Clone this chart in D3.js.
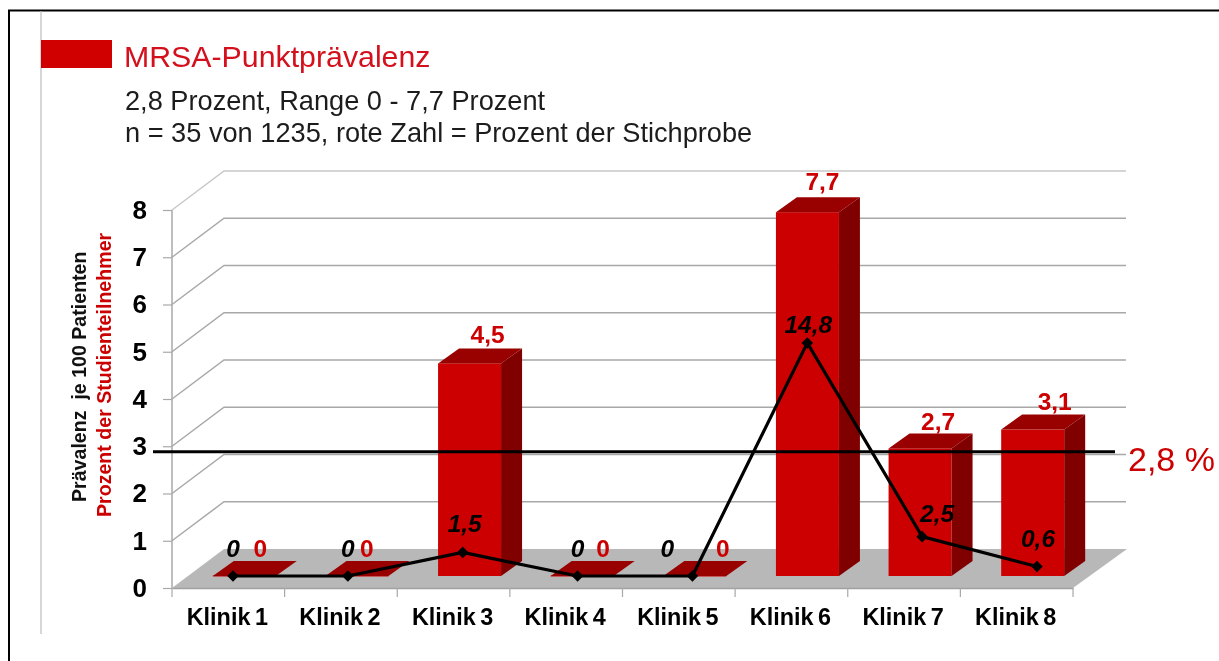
<!DOCTYPE html>
<html><head><meta charset="utf-8">
<script src="https://cdn.jsdelivr.net/npm/d3@7/dist/d3.min.js"></script>
<style>html,body{margin:0;padding:0;background:#fff}svg{display:block;font-family:"Liberation Sans",Arial,sans-serif;filter:blur(0.45px)}</style>
</head><body><svg id="c" width="1219" height="661"></svg>
<script>
const categories=["Klinik 1","Klinik 2","Klinik 3","Klinik 4","Klinik 5","Klinik 6","Klinik 7","Klinik 8"];
const prevalence=[0,0,4.5,0,0,7.7,2.7,3.1];
const studentShare=[0,0,1.5,0,0,14.8,2.5,0.6];
const prevalenceLabels=["0","0","4,5","0","0","7,7","2,7","3,1"];
const studentLabels=["0","0","1,5","0","0","14,8","2,5","0,6"];
const yTicks=[0,1,2,3,4,5,6,7,8];
const meanValue=2.8, meanLabel="2,8 %";
const titleText="MRSA-Punktprävalenz";
const subtitleLines=["2,8 Prozent, Range 0 - 7,7 Prozent","n = 35 von 1235, rote Zahl = Prozent der Stichprobe"];
const yTitleBlack="Prävalenz  je 100 Patienten", yTitleRed="Prozent der Studienteilnehmer";
const redDx=[16,10,18,21,28,15,18,22];
const redDy=[19,19,20,19,19,22,18,20];
const blackDx=[0,0,2,0,-25,1,15,1];
const blackDy=[19,19,20,19,19,10,15,20];

const RED="#cc0000",TOP="#990000",SIDE="#800000",GRID="#a8a8a8",FLOOR="#b8b8b8",TITLE="#d4101c";
const svg=d3.select("#c");
const left=172,right=1073,y0=588,y8=210,wallDx=52,wallDy=39,inDx=16,inDy=12,barW=63,bDx=21,bDy=15;
const x=d3.scaleBand().domain(categories).range([left,right]);
const y=d3.scaleLinear().domain([0,8]).range([y0,y8]);
const yS=d3.scaleLinear().domain([0,24]).range([y0-inDy,y8-inDy]);
const xS=d3.scalePoint().domain(categories).range([233,1037]);

// frame
svg.append("path").attr("d","M9,661V10.5H1219").attr("fill","none").attr("stroke","#000").attr("stroke-width",2);
svg.append("line").attr("x1",41).attr("x2",41).attr("y1",11).attr("y2",634).attr("stroke","#bdbdbd").attr("stroke-width",1.2);
svg.append("rect").attr("x",41).attr("y",40).attr("width",71).attr("height",28).attr("fill","#d00000");
svg.append("text").attr("x",124).attr("y",67).attr("font-size",30.3).attr("fill",TITLE).text(titleText);
subtitleLines.forEach((t,i)=>svg.append("text").attr("x",125).attr("y",110+i*32).attr("font-size",27.2).attr("fill","#1c1c1c").text(t));

// walls
const wall=svg.append("g").attr("fill","none").attr("stroke",GRID).attr("stroke-width",1.5);
svg.append("path").attr("fill",FLOOR).attr("d",`M${left},${y0}L${left+wallDx},${y0-wallDy}H${right+wallDx+2}L${right},${y0}Z`);
yTicks.forEach(v=>{
  if(v===0)return;
  wall.append("path").attr("stroke",v===8?"#c8c8c8":GRID).attr("d",`M${left},${y(v)}L${left+wallDx},${y(v)-wallDy}H${right+wallDx+1}`);
});
svg.append("line").attr("x1",left).attr("x2",left).attr("y1",y8).attr("y2",y0).attr("stroke",GRID).attr("stroke-width",1.5);

// axes
const ax=svg.append("g").attr("transform",`translate(${left},0)`).call(d3.axisLeft(y).tickValues(yTicks).tickSize(9).tickPadding(16).tickFormat(d3.format("d")));
ax.select(".domain").remove();
ax.selectAll("line").attr("stroke",GRID).attr("stroke-width",1.2);
ax.selectAll("text").attr("font-family","Liberation Sans").attr("font-size",26).attr("font-weight","bold").attr("fill","#000");
const bx=svg.append("g").attr("transform",`translate(0,${y0})`).call(d3.axisBottom(x).tickSize(0).tickPadding(20));
bx.select(".domain").attr("stroke","#a0a0a0").attr("stroke-width",1.5);
bx.selectAll("text").attr("font-family","Liberation Sans").attr("font-size",23.4).attr("font-weight","bold").attr("fill","#000").attr("word-spacing",-2).attr("dx",-1);
[...categories.map(c=>x(c)),right].forEach(px=>bx.append("line").attr("x1",px).attr("x2",px).attr("y1",0).attr("y2",9).attr("stroke",GRID).attr("stroke-width",1.2));

// bars
const g=svg.append("g");
categories.forEach((c,i)=>{
  const cx=x(c)+x.bandwidth()/2+inDx, l=cx-barW/2, r=cx+barW/2, b=y0-inDy, t=y(prevalence[i])-inDy;
  if(prevalence[i]>0) g.append("rect").attr("x",l).attr("y",t).attr("width",barW).attr("height",b-t).attr("fill",RED);
  else g.append("line").attr("x1",l).attr("x2",r).attr("y1",b).attr("y2",b).attr("stroke",RED).attr("stroke-width",1);
  g.append("path").attr("fill",TOP).attr("d",`M${l},${t}L${l+bDx},${t-bDy}H${r+bDx}L${r},${t}Z`);
  if(prevalence[i]>0) g.append("path").attr("fill",SIDE).attr("d",`M${r},${t}L${r+bDx},${t-bDy}V${b-bDy}L${r},${b}Z`);
});

// student line
const line=d3.line().x((d,i)=>xS(categories[i])).y(d=>yS(d));
svg.append("path").datum(studentShare).attr("d",line).attr("fill","none").attr("stroke","#000").attr("stroke-width",3.2).attr("stroke-linejoin","round");
svg.append("g").selectAll("path").data(studentShare).join("path")
  .attr("d",d3.symbol(d3.symbolDiamond2,85)).attr("fill","#000")
  .attr("transform",(d,i)=>`translate(${xS(categories[i])},${yS(d)})`);

// mean line
const meanY=y(meanValue)-4;
svg.append("line").attr("x1",153).attr("x2",1115).attr("y1",meanY).attr("y2",meanY).attr("stroke","#000").attr("stroke-width",3);
svg.append("text").attr("x",1128).attr("y",471).attr("font-size",34).attr("fill",RED).text(meanLabel);

// labels
categories.forEach((c,i)=>{
  const cx=x(c)+x.bandwidth()/2+inDx, t=y(prevalence[i])-inDy;
  svg.append("text").attr("x",cx+redDx[i]).attr("y",t-redDy[i]).attr("text-anchor","middle")
    .attr("font-size",24.5).attr("font-weight","bold").attr("fill",RED).text(prevalenceLabels[i]);
  svg.append("text").attr("x",xS(c)+blackDx[i]).attr("y",yS(studentShare[i])-blackDy[i]).attr("text-anchor","middle")
    .attr("font-size",24.5).attr("font-weight","bold").attr("font-style","italic").attr("fill","#000").text(studentLabels[i]);
});

// y titles
svg.append("text").attr("transform","translate(86,502) rotate(-90)").attr("font-size",19.6).attr("font-weight","bold").attr("fill","#111").style("white-space","pre").text(yTitleBlack);
svg.append("text").attr("transform","translate(111,517) rotate(-90)").attr("font-size",19.6).attr("font-weight","bold").attr("fill",RED).text(yTitleRed);
</script></body></html>
